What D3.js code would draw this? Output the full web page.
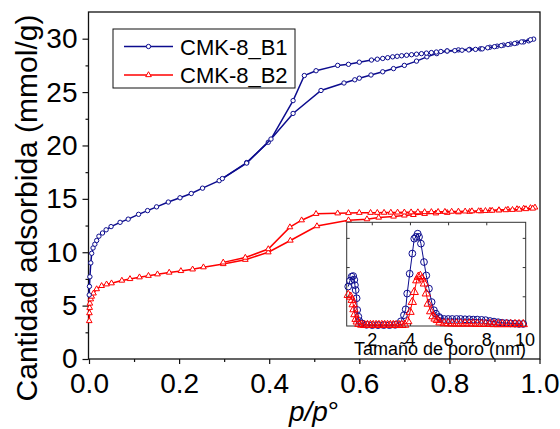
<!DOCTYPE html>
<html>
<head>
<meta charset="utf-8">
<script src="https://cdn.jsdelivr.net/npm/d3@7"></script>
<style>
  body { margin: 0; background: #fff; }
  text { font-family: "Liberation Sans", Arial, sans-serif; fill: #000; }
</style>
</head>
<body>
<div id="chart"></div>
<script>
// ---- data ----
var seriesNames = ["CMK-8_B1", "CMK-8_B2"];

// CMK-8_B1, adsorption branch
var b1AdsP = [0.0005, 0.001, 0.002, 0.004, 0.006, 0.009, 0.013, 0.017, 0.022, 0.030, 0.038, 0.049, 0.069, 0.087, 0.110, 0.130, 0.150, 0.176, 0.202, 0.227, 0.252, 0.289, 0.350, 0.398, 0.453, 0.515, 0.566, 0.590, 0.600, 0.626, 0.652, 0.676, 0.700, 0.727, 0.750, 0.772, 0.795, 0.820, 0.845, 0.869, 0.890, 0.906, 0.920, 0.936, 0.950, 0.965, 0.976, 0.987];
var b1AdsV = [6.0, 6.8, 7.7, 9.0, 9.9, 10.4, 10.75, 11.1, 11.5, 11.8, 12.1, 12.4, 12.8, 13.1, 13.55, 13.9, 14.25, 14.7, 15.1, 15.5, 16.0, 16.7, 18.4, 20.3, 23.0, 25.15, 25.85, 26.15, 26.3, 26.6, 26.9, 27.2, 27.5, 27.9, 28.3, 28.6, 28.85, 28.95, 29.0, 29.05, 29.2, 29.3, 29.4, 29.5, 29.6, 29.7, 29.8, 29.96];
// CMK-8_B1, desorption branch
var b1DesP = [0.980, 0.960, 0.945, 0.930, 0.915, 0.900, 0.885, 0.873, 0.858, 0.843, 0.828, 0.812, 0.795, 0.781, 0.771, 0.760, 0.749, 0.738, 0.727, 0.716, 0.705, 0.694, 0.684, 0.674, 0.663, 0.652, 0.640, 0.627, 0.600, 0.576, 0.552, 0.504, 0.478, 0.453, 0.404, 0.350, 0.296];
var b1DesV = [29.9, 29.7, 29.55, 29.45, 29.35, 29.25, 29.15, 29.05, 29.0, 28.95, 28.92, 28.88, 28.85, 28.8, 28.75, 28.7, 28.65, 28.6, 28.55, 28.5, 28.45, 28.4, 28.35, 28.3, 28.22, 28.15, 28.08, 28.0, 27.8, 27.6, 27.5, 27.0, 26.55, 24.2, 20.6, 18.35, 16.9];

// CMK-8_B2, adsorption branch
var b2AdsP = [0.0005, 0.001, 0.0015, 0.002, 0.004, 0.006, 0.010, 0.017, 0.028, 0.039, 0.050, 0.073, 0.091, 0.112, 0.132, 0.152, 0.178, 0.204, 0.230, 0.254, 0.298, 0.347, 0.398, 0.447, 0.506, 0.576, 0.617, 0.643, 0.676, 0.700, 0.720, 0.745, 0.770, 0.795, 0.820, 0.845, 0.870, 0.890, 0.910, 0.930, 0.950, 0.965, 0.980, 0.990];
var b2AdsV = [3.56, 4.3, 4.8, 5.2, 5.6, 5.85, 6.15, 6.55, 6.85, 7.0, 7.1, 7.35, 7.5, 7.66, 7.8, 7.94, 8.1, 8.25, 8.4, 8.6, 8.9, 9.3, 10.0, 11.1, 12.45, 13.0, 13.1, 13.25, 13.35, 13.45, 13.5, 13.6, 13.65, 13.7, 13.75, 13.8, 13.85, 13.9, 13.95, 14.0, 14.05, 14.1, 14.15, 14.2];
// CMK-8_B2, desorption branch
var b2DesP = [0.985, 0.970, 0.955, 0.940, 0.925, 0.910, 0.895, 0.880, 0.865, 0.850, 0.835, 0.820, 0.805, 0.790, 0.775, 0.760, 0.745, 0.730, 0.715, 0.700, 0.685, 0.670, 0.655, 0.640, 0.625, 0.600, 0.576, 0.552, 0.504, 0.472, 0.446, 0.398, 0.347, 0.298];
var b2DesV = [14.1, 14.05, 14.0, 13.98, 13.95, 13.93, 13.9, 13.88, 13.86, 13.85, 13.83, 13.82, 13.81, 13.8, 13.79, 13.78, 13.77, 13.76, 13.75, 13.74, 13.73, 13.72, 13.71, 13.7, 13.7, 13.7, 13.68, 13.65, 13.6, 13.0, 12.35, 10.3, 9.5, 9.05];

// inset: pore size distribution (nm, arbitrary units)
var psdB1X = [0.74, 0.83, 0.92, 1.00, 1.06, 1.09, 1.13, 1.18, 1.21, 1.27, 1.32, 1.45, 1.7, 2.0, 2.3, 2.6, 2.9, 3.2, 3.50, 3.66, 3.75, 3.83, 3.96, 4.10, 4.20, 4.29, 4.38, 4.45, 4.55, 4.71, 4.83, 4.97, 5.11, 5.23, 5.34, 5.50, 5.55, 5.77, 5.98, 6.19, 6.42, 6.63, 6.86, 7.08, 7.29, 7.50, 7.73, 7.94, 8.17, 8.38, 8.60, 8.81, 9.04, 9.25, 9.48, 9.69, 9.91];
var psdB1Y = [1.35, 1.55, 1.69, 1.71, 1.58, 1.40, 1.23, 0.95, 0.55, 0.32, 0.17, 0.09, 0.04, 0.03, 0.03, 0.03, 0.03, 0.04, 0.16, 0.37, 0.57, 1.11, 1.79, 2.48, 2.99, 3.05, 3.16, 3.05, 2.82, 2.19, 1.73, 1.28, 0.82, 0.54, 0.42, 0.31, 0.27, 0.24, 0.24, 0.24, 0.24, 0.24, 0.23, 0.23, 0.22, 0.22, 0.21, 0.20, 0.17, 0.15, 0.13, 0.11, 0.10, 0.09, 0.08, 0.07, 0.07];
var psdB2X = [0.74, 0.87, 0.95, 1.00, 1.04, 1.09, 1.15, 1.21, 1.30, 1.45, 1.6, 1.75, 1.9, 2.05, 2.2, 2.35, 2.5, 2.65, 2.8, 2.95, 3.1, 3.25, 3.4, 3.55, 3.70, 3.86, 3.98, 4.10, 4.20, 4.33, 4.41, 4.52, 4.62, 4.73, 4.83, 4.93, 5.06, 5.18, 5.29, 5.41, 5.55, 5.77, 5.98, 6.19, 6.42, 6.63, 6.86, 7.08, 7.29, 7.50, 7.73, 7.94, 8.17, 8.38, 8.60, 8.81, 9.04, 9.25, 9.48, 9.69, 9.91];
var psdB2Y = [1.06, 1.00, 0.89, 0.74, 0.57, 0.40, 0.24, 0.15, 0.07, 0.04, 0.03, 0.03, 0.03, 0.03, 0.03, 0.03, 0.03, 0.03, 0.03, 0.03, 0.03, 0.03, 0.03, 0.03, 0.04, 0.16, 0.48, 0.82, 1.16, 1.56, 1.68, 1.71, 1.62, 1.45, 1.11, 0.76, 0.50, 0.33, 0.25, 0.20, 0.12, 0.09, 0.09, 0.08, 0.08, 0.08, 0.08, 0.08, 0.08, 0.07, 0.07, 0.07, 0.07, 0.06, 0.06, 0.06, 0.06, 0.06, 0.06, 0.06, 0.06];

var xTicks = [0.0, 0.2, 0.4, 0.6, 0.8, 1.0];
var yTicks = [0, 5, 10, 15, 20, 25, 30];
var insetXTicks = [2, 4, 6, 8, 10];
var insetYTicks = [1, 2, 3];

var blue = "#0c0c8e";
var red = "#ff0000";

function zip(xs, ys) {
  return xs.map(function(x, i) { return [x, ys[i]]; });
}

var svg = d3.select("#chart")
  .append("svg")
  .attr("width", 560)
  .attr("height", 429);

// main scales
var x = d3.scaleLinear().domain([0, 1]).range([89, 539.5]);
var y = d3.scaleLinear().domain([0, 32.5]).range([359, 12]);

// frame
svg.append("rect")
  .attr("x", 88.5).attr("y", 12)
  .attr("width", 540 - 88.5).attr("height", 359 - 12)
  .attr("fill", "none")
  .attr("stroke", "#111")
  .attr("stroke-width", 1.3);

// minor ticks
var xAxisMinor = svg.append("g")
  .attr("transform", "translate(0,359)")
  .call(d3.axisBottom(x).tickValues([0.1, 0.3, 0.5, 0.7, 0.9]).tickSize(3).tickFormat(""));
var yAxisMinor = svg.append("g")
  .attr("transform", "translate(88.5,0)")
  .call(d3.axisLeft(y).tickValues([2.5, 7.5, 12.5, 17.5, 22.5, 27.5]).tickSize(3).tickFormat(""));

// major ticks and labels
var xAxis = svg.append("g")
  .attr("transform", "translate(0,359)")
  .call(d3.axisBottom(x).tickValues(xTicks).tickSize(5).tickPadding(9).tickFormat(d3.format(".1f")));
var yAxis = svg.append("g")
  .attr("transform", "translate(88.5,0)")
  .call(d3.axisLeft(y).tickValues(yTicks).tickSize(6).tickPadding(5).tickFormat(d3.format("d")));

[xAxisMinor, yAxisMinor, xAxis, yAxis].forEach(function(g) {
  g.select(".domain").remove();
  g.selectAll("line").attr("stroke", "#111").attr("stroke-width", 1.2);
});
xAxis.selectAll("text").style("font-size", "28px").attr("fill", "#000");
yAxis.selectAll("text").style("font-size", "28px").attr("fill", "#000");

// axis titles
svg.append("text")
  .attr("transform", "translate(37,208) rotate(-90)")
  .attr("text-anchor", "middle")
  .style("font-size", "30px")
  .text("Cantidad adsorbida (mmol/g)");

var xTitle = svg.append("text")
  .attr("x", 314)
  .attr("y", 421)
  .attr("text-anchor", "middle")
  .style("font-size", "28px");
xTitle.append("tspan").style("font-style", "italic").text("p/p");
xTitle.append("tspan").text("°");

// isotherms
var line = d3.line().x(function(d) { return x(d[0]); }).y(function(d) { return y(d[1]); });
var circleSym = d3.symbol().type(d3.symbolCircle).size(15);
var triSym = d3.symbol().type(d3.symbolTriangle).size(14);

function drawSeries(pts, color, sym) {
  svg.append("path")
    .datum(pts)
    .attr("d", line)
    .attr("fill", "none")
    .attr("stroke", color)
    .attr("stroke-width", 1.5);
  svg.append("g").selectAll("path")
    .data(pts)
    .enter()
    .append("path")
    .attr("d", sym)
    .attr("transform", function(d) { return "translate(" + x(d[0]) + "," + y(d[1]) + ")"; })
    .attr("fill", "#fff")
    .attr("stroke", color)
    .attr("stroke-width", 1);
}

drawSeries(zip(b2AdsP, b2AdsV), red, triSym);
drawSeries(zip(b2DesP, b2DesV), red, triSym);
drawSeries(zip(b1AdsP, b1AdsV), blue, circleSym);
drawSeries(zip(b1DesP, b1DesV), blue, circleSym);

// legend
var legend = svg.append("g");
legend.append("rect")
  .attr("x", 113).attr("y", 29)
  .attr("width", 182).attr("height", 59)
  .attr("fill", "#fff")
  .attr("stroke", "#111")
  .attr("stroke-width", 1);
[[blue, circleSym], [red, triSym]].forEach(function(s, i) {
  var ly = 46.5 + i * 28.5;
  legend.append("line")
    .attr("x1", 124).attr("x2", 173)
    .attr("y1", ly).attr("y2", ly)
    .attr("stroke", s[0]).attr("stroke-width", 1.5);
  legend.append("path")
    .attr("d", s[1])
    .attr("transform", "translate(148.5," + ly + ")")
    .attr("fill", "#fff")
    .attr("stroke", s[0]);
  legend.append("text")
    .attr("x", 180)
    .attr("y", ly + 8)
    .style("font-size", "22px")
    .text(seriesNames[i]);
});

// ---- inset ----
var ix = d3.scaleLinear().domain([0.66, 10.04]).range([346.7, 525.7]);
var iy = d3.scaleLinear().domain([0, 3.55]).range([326, 222.3]);

svg.append("rect")
  .attr("x", 346.7).attr("y", 222.3)
  .attr("width", 525.7 - 346.7).attr("height", 326 - 222.3)
  .attr("fill", "#fff")
  .attr("stroke", "#333")
  .attr("stroke-width", 1);

// inward ticks on all four sides
var inset = svg.append("g");
insetXTicks.filter(function(d) { return d < 10; }).forEach(function(d) {
  inset.append("line").attr("x1", ix(d)).attr("x2", ix(d)).attr("y1", 326).attr("y2", 323).attr("stroke", "#333");
  inset.append("line").attr("x1", ix(d)).attr("x2", ix(d)).attr("y1", 222.3).attr("y2", 225.3).attr("stroke", "#333");
});
insetYTicks.forEach(function(d) {
  inset.append("line").attr("x1", 346.7).attr("x2", 349.7).attr("y1", iy(d)).attr("y2", iy(d)).attr("stroke", "#333");
  inset.append("line").attr("x1", 525.7).attr("x2", 522.7).attr("y1", iy(d)).attr("y2", iy(d)).attr("stroke", "#333");
});

inset.selectAll(".ilab")
  .data(insetXTicks)
  .enter()
  .append("text")
  .attr("x", function(d) { return ix(d); })
  .attr("y", 346)
  .attr("text-anchor", "middle")
  .style("font-size", "18px")
  .text(function(d) { return d; });

inset.append("text")
  .attr("x", 440)
  .attr("y", 355)
  .attr("text-anchor", "middle")
  .style("font-size", "18px")
  .text("Tamaño de poro (nm)");

var iline = d3.line().x(function(d) { return ix(d[0]); }).y(function(d) { return iy(d[1]); });
var icircle = d3.symbol().type(d3.symbolCircle).size(36);
var itri = d3.symbol().type(d3.symbolTriangle).size(30);

function drawInset(pts, color, sym) {
  inset.append("path")
    .datum(pts)
    .attr("d", iline)
    .attr("fill", "none")
    .attr("stroke", color)
    .attr("stroke-width", 1);
  inset.append("g").selectAll("path")
    .data(pts)
    .enter()
    .append("path")
    .attr("d", sym)
    .attr("transform", function(d) { return "translate(" + ix(d[0]) + "," + iy(d[1]) + ")"; })
    .attr("fill", "none")
    .attr("stroke", color)
    .attr("stroke-width", 1);
}

drawInset(zip(psdB1X, psdB1Y), blue, icircle);
drawInset(zip(psdB2X, psdB2Y), red, itri);
</script>
</body>
</html>
